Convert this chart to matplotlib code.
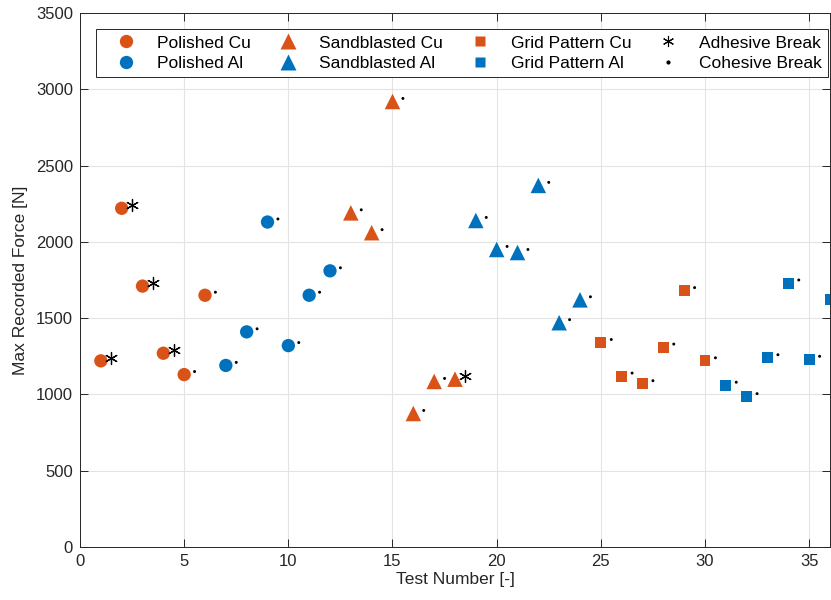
import matplotlib
matplotlib.use("Agg")
import matplotlib.pyplot as plt
from matplotlib.lines import Line2D
import numpy as np

plt.rcParams['font.family'] = ['Liberation Sans', 'DejaVu Sans']

# Test numbers and max recorded force for each surface preparation
polished_cu_x = [1, 2, 3, 4, 5, 6]
polished_cu_y = [1220, 2220, 1710, 1270, 1130, 1650]
polished_al_x = [7, 8, 9, 10, 11, 12]
polished_al_y = [1190, 1410, 2130, 1320, 1650, 1810]
sandblasted_cu_x = [13, 14, 15, 16, 17, 18]
sandblasted_cu_y = [2190, 2060, 2920, 875, 1085, 1100]
sandblasted_al_x = [19, 20, 21, 22, 23, 24]
sandblasted_al_y = [2140, 1950, 1930, 2370, 1470, 1620]
grid_cu_x = [25, 26, 27, 28, 29, 30]
grid_cu_y = [1340, 1120, 1070, 1310, 1680, 1220]
grid_al_x = [31, 32, 33, 34, 35, 36]
grid_al_y = [1060, 985, 1240, 1730, 1230, 1620]

# Failure mode per test (A = adhesive, C = cohesive)
break_mode = ['A', 'A', 'A', 'A', 'C', 'C',
              'C', 'C', 'C', 'C', 'C', 'C',
              'C', 'C', 'C', 'C', 'C', 'A',
              'C', 'C', 'C', 'C', 'C', 'C',
              'C', 'C', 'C', 'C', 'C', 'C',
              'C', 'C', 'C', 'C', 'C', 'C']

x_ticks = [0, 5, 10, 15, 20, 25, 30, 35]
y_ticks = [0, 500, 1000, 1500, 2000, 2500, 3000, 3500]

ORANGE = '#D95319'
BLUE = '#0072BD'
AX_COLOR = '#262626'

fig = plt.figure(figsize=(8.31, 6.0), dpi=100)
ax = fig.add_axes([80 / 831, 53 / 600, 750 / 831, 534 / 600])

groups = [
    (polished_cu_x, polished_cu_y, 'o', ORANGE, 'Polished Cu', 92),
    (polished_al_x, polished_al_y, 'o', BLUE, 'Polished Al', 92),
    (sandblasted_cu_x, sandblasted_cu_y, '^', ORANGE, 'Sandblasted Cu', 125),
    (sandblasted_al_x, sandblasted_al_y, '^', BLUE, 'Sandblasted Al', 125),
    (grid_cu_x, grid_cu_y, 's', ORANGE, 'Grid Pattern Cu', 62),
    (grid_al_x, grid_al_y, 's', BLUE, 'Grid Pattern Al', 62),
]

handles = []
for xs, ys, m, c, lab, s in groups:
    ax.scatter(xs, ys, marker=m, s=s, color=c, edgecolors='none', zorder=3)
    handles.append(Line2D([], [], linestyle='none', marker=m, color=c,
                          markeredgecolor='none', markersize=np.sqrt(s), label=lab))

# Failure-mode markers sit just to the right of each measurement
all_x = np.concatenate([g[0] for g in groups])
all_y = np.concatenate([g[1] for g in groups])
modes = np.array(break_mode)
adh = modes == 'A'
coh = modes == 'C'
dx, dy = 0.5, 20
asterisk = (6, 2, 0)
ax.scatter(all_x[adh] + dx, all_y[adh] + dy, marker=asterisk, s=75,
           color='black', linewidths=0.9, zorder=4)
ax.scatter(all_x[coh] + dx, all_y[coh] + dy, marker='.', s=18,
           color='black', edgecolors='none', zorder=4)
handles.append(Line2D([], [], linestyle='none', marker=asterisk, color='black',
                      markersize=8, markeredgewidth=0.8, label='Adhesive Break'))
handles.append(Line2D([], [], linestyle='none', marker='.', color='black',
                      markersize=4, label='Cohesive Break'))

ax.set_xlim(0, 36)
ax.set_ylim(0, 3500)
ax.set_xticks(x_ticks)
ax.set_yticks(y_ticks)
ax.grid(True, color='#E3E3E3', linewidth=0.8)
ax.set_axisbelow(True)
for sp in ax.spines.values():
    sp.set_color(AX_COLOR)
    sp.set_linewidth(0.7)
ax.tick_params(direction='in', length=5.5, width=0.7, colors=AX_COLOR,
               labelsize=12, top=True, right=True, labelcolor=AX_COLOR, pad=5)
ax.set_xlabel('Test Number [-]', fontsize=12.5, color=AX_COLOR, labelpad=2)
ax.set_ylabel('Max Recorded Force [N]', fontsize=12.5, color=AX_COLOR, labelpad=6)

leg = ax.legend(handles=handles, ncol=4, loc='lower left',
                bbox_to_anchor=(16 / 750, 470 / 534, 732 / 750, 50 / 534),
                mode='expand', fontsize=12.5, frameon=True, fancybox=False,
                edgecolor=AX_COLOR, framealpha=1, borderaxespad=0,
                handlelength=2.76, handletextpad=0.4, columnspacing=0.8,
                labelspacing=0.3, borderpad=0.35)
leg.get_frame().set_linewidth(0.7)

fig.savefig('out.png', dpi=100)
